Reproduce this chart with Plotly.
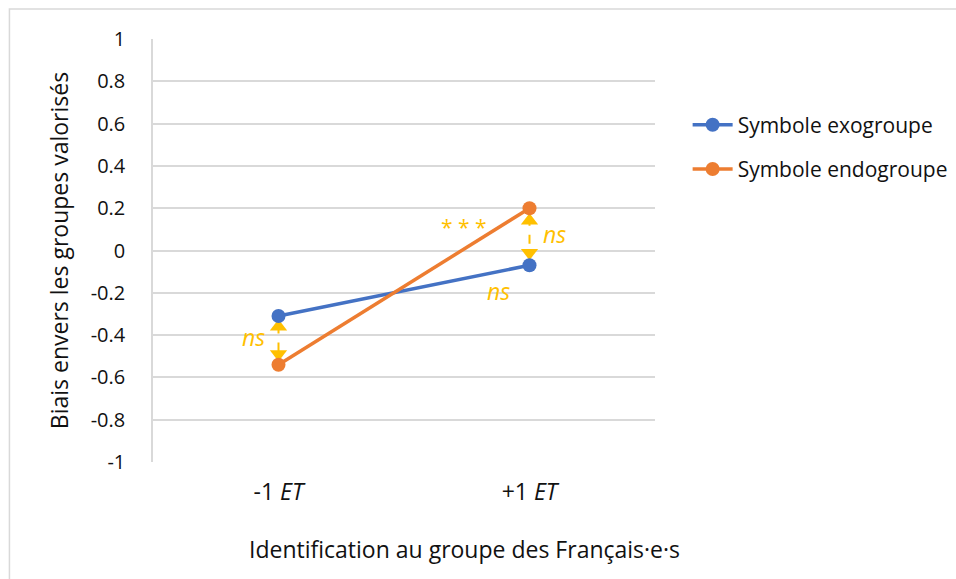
import plotly.graph_objects as go

# Data
categories = ["-1 <i>ET</i>", "+1 <i>ET</i>"]
exogroupe = [-0.31, -0.07]
endogroupe = [-0.54, 0.20]
series_names = ["Symbole exogroupe", "Symbole endogroupe"]
y_ticks = [1, 0.8, 0.6, 0.4, 0.2, 0, -0.2, -0.4, -0.6, -0.8, -1]

BLUE = "#4472C4"
ORANGE = "#ED7D31"
GOLD = "#FFC000"
GRID = "#D9D9D9"
FONT = "'Open Sans', sans-serif"

x_pos = [0, 1]

fig = go.Figure()

# Significance arrows between the two conditions at each level
for i in range(2):
    top = max(exogroupe[i], endogroupe[i])
    bot = min(exogroupe[i], endogroupe[i])
    span = top - bot
    fig.add_trace(go.Scatter(
        x=[x_pos[i], x_pos[i]], y=[top - 0.04, bot + 0.04],
        mode="lines", line=dict(color=GOLD, width=2, dash="dash"),
        showlegend=False, hoverinfo="skip"))
    fig.add_trace(go.Scatter(
        x=[x_pos[i], x_pos[i]], y=[top - span * 0.22, bot + span * 0.22],
        mode="markers",
        marker=dict(symbol=["triangle-up", "triangle-down"], size=15, color=GOLD),
        showlegend=False, hoverinfo="skip"))

for k, (name, vals, col) in enumerate([(series_names[0], exogroupe, BLUE),
                                       (series_names[1], endogroupe, ORANGE)]):
    fig.add_trace(go.Scatter(
        x=x_pos, y=vals, mode="lines+markers", name=name, legendgroup=f"g{k}",
        line=dict(color=col, width=3.5),
        marker=dict(size=14, color=col)))

# Significance labels
labels = [
    dict(x=0.74, y=0.11, text="* * *", size=21),
    dict(x=1.1, y=0.08, text="<i>ns</i>", size=23),
    dict(x=0.875, y=-0.19, text="<i>ns</i>", size=23),
    dict(x=-0.1, y=-0.41, text="<i>ns</i>", size=23),
]
for l in labels:
    fig.add_annotation(x=l["x"], y=l["y"], text=l["text"], showarrow=False,
                       font=dict(family=FONT, size=l["size"], color=GOLD))

# Horizontal axis title
fig.add_annotation(xref="paper", yref="paper", x=0.62, y=-0.205, xanchor="center",
                   yanchor="middle", text="Identification au groupe des Français·e·s",
                   showarrow=False, font=dict(family=FONT, size=23, color="#111"))

# Outer frame
fig.add_shape(type="rect", xref="paper", yref="paper",
              x0=-0.286, y0=-0.28, x1=1.7, y1=1.071,
              line=dict(color=GRID, width=1.5), layer="below")

fig.update_layout(
    width=956, height=579,
    margin=dict(l=153, r=301, t=39, b=117, autoexpand=False),
    paper_bgcolor="white", plot_bgcolor="white",
    font=dict(family=FONT, size=20, color="#111"),
    xaxis=dict(range=[-0.5, 1.5], tickvals=x_pos, ticktext=categories,
               showgrid=False, zeroline=False, showline=False, ticks="",
               tickfont=dict(size=23), ticklabelstandoff=14),
    yaxis=dict(range=[-1, 1], tickvals=y_ticks, ticktext=[str(v) for v in y_ticks],
               showgrid=True, gridcolor=GRID, gridwidth=1.5, zeroline=False,
               showline=True, linecolor=GRID, linewidth=1.5, ticks="",
               tickfont=dict(size=20), ticklabelstandoff=22,
               title=dict(text="Biais envers les groupes valorisés",
                          font=dict(size=23), standoff=16)),
    legend=dict(x=1.065, y=0.845, xanchor="left", yanchor="top",
                font=dict(size=21, color="#111"), itemwidth=40,
                tracegroupgap=14, bgcolor="rgba(0,0,0,0)"),
    showlegend=True,
)

fig.write_html("out.html")
